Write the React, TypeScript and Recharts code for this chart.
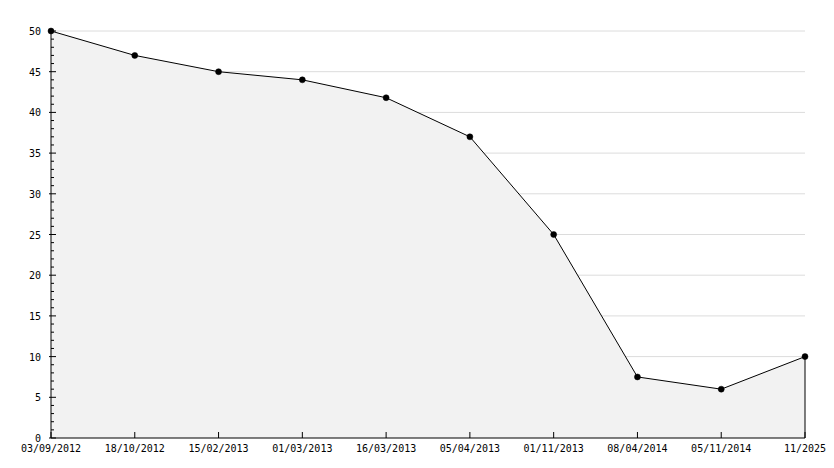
import { AreaChart, Area, XAxis, YAxis, CartesianGrid, ReferenceLine } from 'recharts';

const dates = ['03/09/2012', '18/10/2012', '15/02/2013', '01/03/2013', '16/03/2013', '05/04/2013', '01/11/2013', '08/04/2014', '05/11/2014', '11/2025'];
const values = [50, 47, 45, 44, 41.8, 37, 25, 7.5, 6, 10];
const yTicks = Array.from({ length: 51 }, (_, i) => i);
const gridValues = [5, 10, 15, 20, 25, 30, 35, 40, 45, 50];

const FONT = '"DejaVu Sans Mono", monospace';
// plot edges (left axis x, bottom axis y)
const AXIS_X = 51;
const AXIS_Y = 438;

function YTick(props: any) {
  const { y, payload } = props;
  const major = payload.value % 5 === 0;
  return (
    <g>
      <line x1={major ? AXIS_X - 2 : AXIS_X} x2={AXIS_X + (major ? 5 : 3)} y1={y} y2={y} stroke="#000" />
      {major && (
        <text x={AXIS_X - 10} y={y} dy={4} textAnchor="end" fontSize={10} fontFamily={FONT} fill="#000">
          {payload.value}
        </text>
      )}
    </g>
  );
}

function XTick(props: any) {
  const { x, payload } = props;
  return (
    <g>
      <line x1={x} x2={x} y1={AXIS_Y} y2={AXIS_Y - 6} stroke="#000" />
      <text x={x} y={AXIS_Y + 14} textAnchor="middle" fontSize={10} fontFamily={FONT} fill="#000">
        {payload.value}
      </text>
    </g>
  );
}

export default function App() {
  const data = dates.map((d, i) => ({ date: d, value: values[i] }));
  return (
    <div style={{ position: 'absolute', left: 0, top: 0, background: '#fff' }}>
      <AreaChart width={834} height={468} data={data} margin={{ top: 31, right: 29, left: 0, bottom: 0 }}>
        <CartesianGrid vertical={false} horizontalValues={gridValues} stroke="#dcdcdc" />
        <XAxis
          dataKey="date"
          height={30}
          padding={{ left: 0, right: 0 }}
          tickLine={false}
          stroke="#000"
          interval={0}
          tick={<XTick />}
        />
        <YAxis
          width={51}
          domain={[0, 50]}
          ticks={yTicks}
          interval={0}
          tickLine={false}
          stroke="#000"
          tick={<YTick />}
        />
        <Area
          type="linear"
          dataKey="value"
          stroke="#000"
          strokeWidth={1}
          fill="#f2f2f2"
          fillOpacity={1}
          dot={{ r: 3, fill: '#000', stroke: '#000', strokeWidth: 0.5 }}
          activeDot={false}
          isAnimationActive={false}
        />
        <ReferenceLine
          segment={[{ x: dates[dates.length - 1], y: 0 }, { x: dates[dates.length - 1], y: values[values.length - 1] }]}
          stroke="#000"
        />
      </AreaChart>
    </div>
  );
}
